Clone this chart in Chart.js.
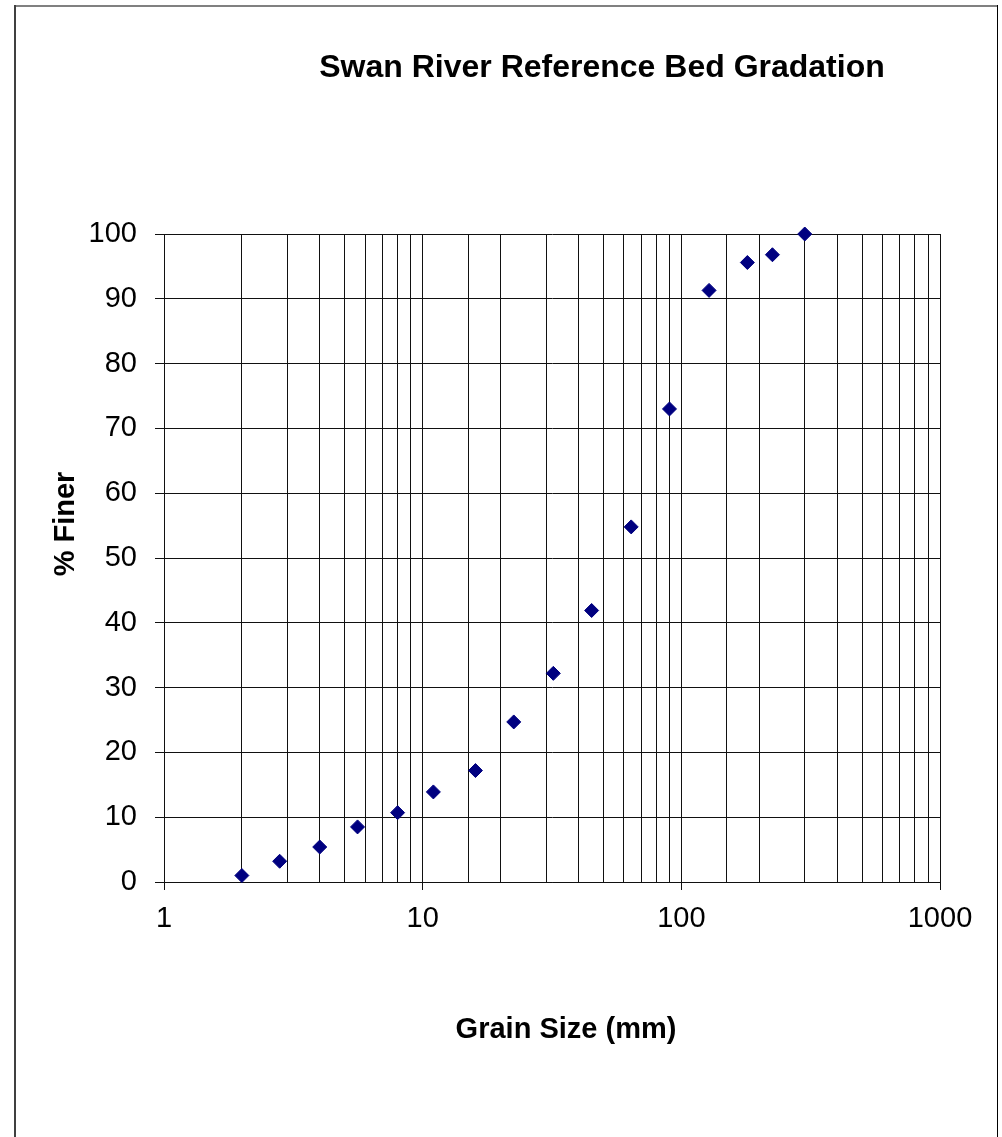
<!DOCTYPE html>
<html>
<head>
<meta charset="utf-8">
<script src="https://cdn.jsdelivr.net/npm/chart.js@4.4.1/dist/chart.umd.min.js"></script>
<style>
  html, body { margin: 0; padding: 0; background: #ffffff; }
  #wrap { position: absolute; left: 0; top: 0; width: 1002px; height: 1137px; }
</style>
</head>
<body>
<div id="wrap"><canvas id="c" width="1002" height="1137"></canvas></div>
<script>
// ---- Data ----
const grainSizeMm = [2, 2.8, 4, 5.6, 8, 11, 16, 22.5, 32, 45, 64, 90, 128, 180, 225, 300];
const percentFiner = [1.0, 3.2, 5.4, 8.5, 10.7, 13.9, 17.2, 24.7, 32.2, 41.9, 54.8, 73.0, 91.3, 95.6, 96.8, 100];
const xTickLabels = [1, 10, 100, 1000];
const yTickLabels = [0, 10, 20, 30, 40, 50, 60, 70, 80, 90, 100];

const chartTitle = 'Swan River Reference Bed Gradation';
const xAxisTitle = 'Grain Size (mm)';
const yAxisTitle = '% Finer';

const FONT = '"Liberation Sans", Arial, Helvetica, sans-serif';
const GRID = '#111111';

const points = grainSizeMm.map((x, i) => ({ x: x, y: percentFiner[i] }));

const decorPlugin = {
  id: 'decor',
  beforeDraw(chart) {
    const ctx = chart.ctx;
    ctx.save();
    ctx.fillStyle = '#ffffff';
    ctx.fillRect(0, 0, chart.width, chart.height);
    // outer frame
    ctx.fillStyle = '#808080';
    ctx.fillRect(14, 5, 984, 2);
    ctx.fillStyle = '#404040';
    ctx.fillRect(14, 5, 2, chart.height);
    ctx.fillStyle = '#000000';
    ctx.fillRect(997, 5, 1, chart.height);
    ctx.restore();
  },
  afterDraw(chart) {
    const ctx = chart.ctx;
    ctx.save();
    ctx.fillStyle = '#000000';
    ctx.textAlign = 'center';
    ctx.textBaseline = 'middle';
    ctx.font = 'bold 32px ' + FONT;
    ctx.fillText(chartTitle, 602, 68);
    ctx.font = 'bold 29px ' + FONT;
    ctx.fillText(xAxisTitle, 566, 1030);
    ctx.translate(66, 524);
    ctx.rotate(-Math.PI / 2);
    ctx.fillText(yAxisTitle, 0, 0);
    ctx.restore();
  }
};

new Chart(document.getElementById('c'), {
  type: 'scatter',
  data: {
    datasets: [{
      data: points,
      clip: false,
      pointStyle: 'rectRot',
      pointRadius: 7,
      pointHoverRadius: 7,
      backgroundColor: '#000080',
      borderColor: '#000080',
      borderWidth: 1
    }]
  },
  options: {
    responsive: false,
    animation: false,
    events: [],
    layout: { padding: { left: 0, right: 62, top: 234, bottom: 195 } },
    plugins: {
      legend: { display: false },
      title: { display: false },
      tooltip: { enabled: false }
    },
    scales: {
      x: {
        type: 'logarithmic',
        min: 1,
        max: 1000,
        afterFit(scale) { scale.height = 60; },
        border: { display: true, color: GRID, width: 1 },
        grid: {
          color: GRID,
          lineWidth: 1,
          drawTicks: true,
          tickLength: 8,
          tickColor: (c) => (c.tick && xTickLabels.includes(c.tick.value)) ? GRID : 'rgba(0,0,0,0)'
        },
        ticks: {
          autoSkip: false,
          maxRotation: 0,
          minRotation: 0,
          padding: 12,
          color: '#000000',
          font: { family: FONT, size: 29 },
          callback: (v) => xTickLabels.includes(v) ? String(v) : ''
        }
      },
      y: {
        type: 'linear',
        min: 0,
        max: 100,
        afterFit(scale) { scale.width = 164; },
        border: { display: true, color: GRID, width: 1 },
        grid: { color: GRID, lineWidth: 1, drawTicks: true, tickLength: 9, tickColor: GRID },
        afterBuildTicks(scale) { scale.ticks = yTickLabels.map(v => ({ value: v })); },
        ticks: {
          padding: 18,
          color: '#000000',
          font: { family: FONT, size: 29 },
          callback: (v) => String(v)
        }
      }
    }
  },
  plugins: [decorPlugin]
});
</script>
</body>
</html>
